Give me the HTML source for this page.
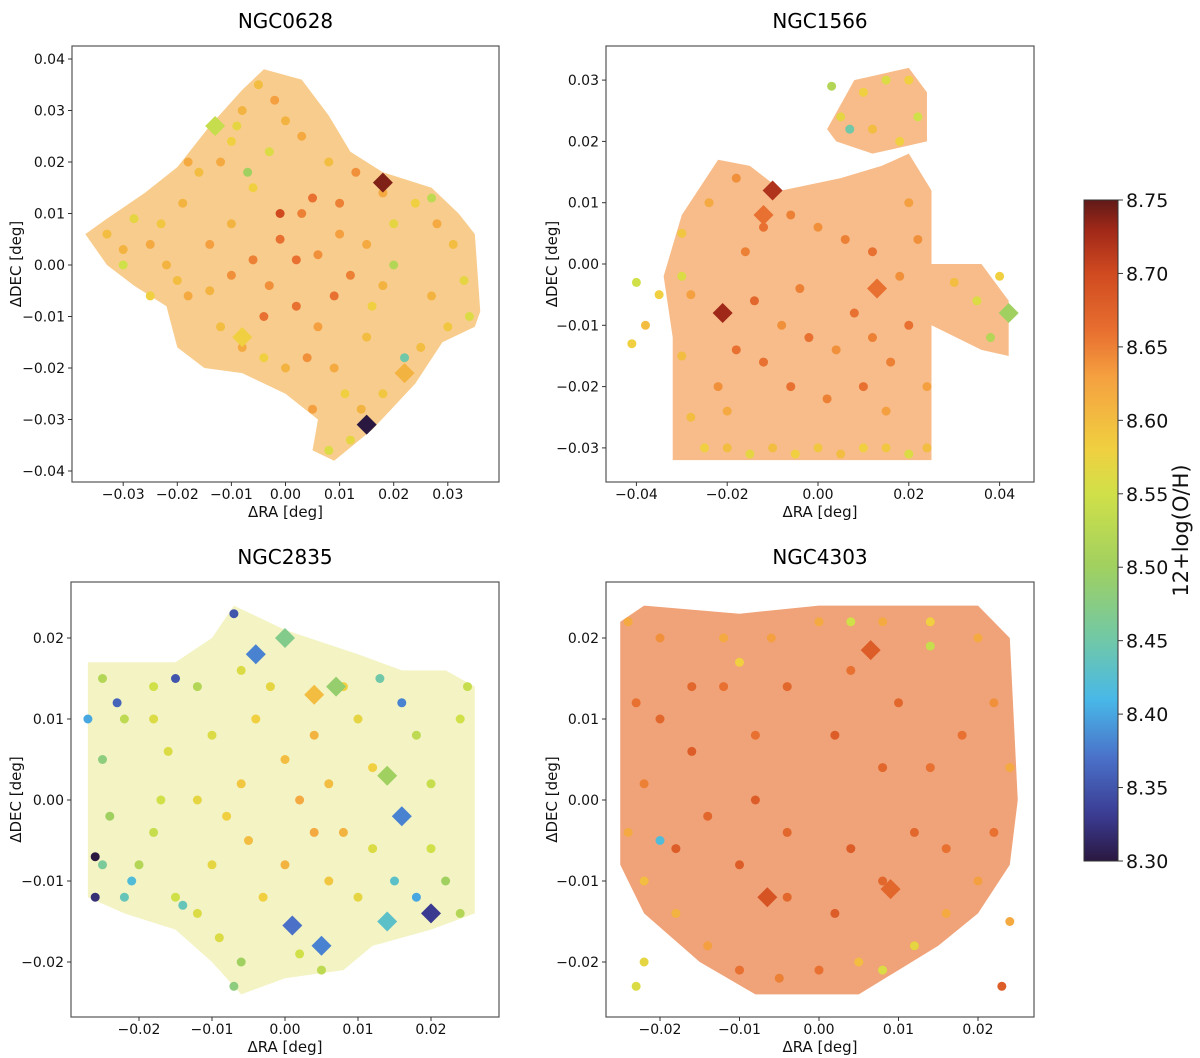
<!DOCTYPE html>
<html><head><meta charset="utf-8">
<style>
html,body{margin:0;padding:0;background:#fff;}
svg{display:block;font-family:"DejaVu Sans","Liberation Sans",sans-serif;}
</style></head>
<body>
<svg id="fig" width="1200" height="1058" viewBox="0 0 1200 1058" xmlns="http://www.w3.org/2000/svg">
<defs>
<linearGradient id="cbgrad" x1="0" y1="1" x2="0" y2="0">
<stop offset="0" stop-color="#2a1840"/><stop offset="0.067" stop-color="#3a3a90"/>
<stop offset="0.155" stop-color="#4a70c8"/><stop offset="0.244" stop-color="#48b8e8"/>
<stop offset="0.333" stop-color="#70c8a8"/><stop offset="0.444" stop-color="#a0d060"/>
<stop offset="0.555" stop-color="#d0e048"/><stop offset="0.622" stop-color="#f0d040"/>
<stop offset="0.733" stop-color="#f5a040"/><stop offset="0.8" stop-color="#e87030"/>
<stop offset="0.889" stop-color="#d04a20"/><stop offset="0.955" stop-color="#a02818"/>
<stop offset="1" stop-color="#601a18"/>
</linearGradient>
</defs>
</svg>
<script>
// ---- data (milli-degrees, 12+log(O/H)) ----
const panelNames = ["NGC0628","NGC1566","NGC2835","NGC4303"];
const ngc0628Points = [[-33,6,8.60],[-30,3,8.61],[-28,9,8.57],[-25,4,8.62],[-22,0,8.61],[-20,-3,8.60],[-18,-6,8.62],[-23,8,8.59],[-19,12,8.61],[-16,18,8.60],[-12,20,8.62],[-10,24,8.58],[-8,30,8.61],[-5,35,8.60],[-2,32,8.63],[0,28,8.61],[3,25,8.62],[-3,22,8.56],[-6,15,8.58],[-10,8,8.61],[-14,4,8.63],[-14,-5,8.61],[-12,-12,8.60],[-8,-16,8.62],[-4,-18,8.58],[0,-20,8.61],[4,-18,8.64],[6,-12,8.63],[2,-8,8.66],[-3,-4,8.64],[-6,1,8.65],[-1,5,8.66],[3,10,8.65],[6,2,8.64],[10,6,8.63],[12,-2,8.65],[9,-6,8.66],[15,4,8.62],[18,-4,8.61],[20,8,8.57],[24,12,8.58],[28,8,8.62],[31,4,8.60],[33,-3,8.57],[34,-10,8.56],[30,-12,8.59],[27,-6,8.61],[25,-16,8.60],[22,-21,8.62],[18,-25,8.59],[14,-28,8.61],[12,-34,8.57],[8,-36,8.56],[5,-28,8.63],[9,-20,8.62],[15,-14,8.60],[16,-8,8.58],[18,14,8.62],[13,18,8.64],[8,20,8.60],[-1,10,8.70],[2,1,8.66],[-25,-6,8.58],[-30,0,8.55],[22,-18,8.45],[-7,18,8.50],[27,13,8.53],[-18,20,8.62],[-9,27,8.57],[5,13,8.66],[10,12,8.65],[-4,-10,8.66],[-10,-2,8.64],[20,0,8.52],[11,-25,8.58]];
const ngc0628Diamonds = [[-8,-14,8.58],[22,-21,8.61],[-13,27,8.54],[18,16,8.74],[15,-31,8.30]];
const ngc0628Footprint = [[-4,38],[3,36],[8,29],[12,22],[18,18],[27,15],[32,10],[35,6],[36,-9],[35,-12],[29,-15],[24,-23],[16,-32],[9,-38],[5,-36],[6,-30],[0,-25],[-8,-21],[-15,-20],[-20,-16],[-22,-8],[-28,-4],[-33,0],[-37,6],[-33,9],[-26,14],[-20,19],[-14,27],[-8,34]];

const ngc1566Points = [[-30,5,8.59],[-28,-5,8.63],[-30,-15,8.60],[-28,-25,8.60],[-25,-30,8.58],[-20,-30,8.60],[-15,-31,8.57],[-10,-30,8.60],[-5,-31,8.58],[0,-30,8.59],[5,-31,8.60],[10,-30,8.58],[15,-30,8.59],[20,-31,8.56],[24,-30,8.60],[-22,-20,8.64],[-18,-14,8.66],[-14,-6,8.67],[-16,2,8.65],[-12,6,8.66],[-6,8,8.65],[0,6,8.64],[6,4,8.65],[12,2,8.66],[18,-2,8.64],[20,-10,8.66],[16,-16,8.65],[10,-20,8.66],[2,-22,8.65],[-6,-20,8.66],[-12,-16,8.66],[-8,-10,8.64],[-4,-4,8.65],[8,-8,8.66],[4,-14,8.64],[15,-24,8.63],[-20,-24,8.62],[20,10,8.63],[22,4,8.64],[24,-20,8.63],[-24,10,8.62],[-18,14,8.64],[-30,-2,8.56],[-35,-5,8.58],[-38,-10,8.60],[-40,-3,8.55],[-41,-13,8.58],[30,-3,8.60],[35,-6,8.56],[38,-12,8.52],[40,-2,8.58],[5,24,8.57],[10,28,8.58],[15,30,8.56],[20,30,8.58],[22,24,8.55],[12,22,8.60],[18,20,8.58],[3,29,8.52],[7,22,8.45],[-2,-12,8.66],[12,-12,8.65]];
const ngc1566Diamonds = [[13,-4,8.66],[-12,8,8.66],[42,-8,8.50],[-10,12,8.72],[-21,-8,8.73]];
const ngc1566Footprint = [[-30,8],[-22,17],[-15,16],[-8,12],[5,14],[14,16],[20,18],[25,12],[25,0],[36,0],[42,-6],[42,-15],[36,-14],[25,-10],[25,-32],[-32,-32],[-32,-12],[-34,-2]];
const ngc1566Footprint2 = [[2,22],[8,30],[20,32],[24,28],[24,20],[12,18],[4,20]];

const ngc2835Points = [[-25,15,8.52],[-22,10,8.53],[-25,5,8.48],[-24,-2,8.50],[-25,-8,8.46],[-22,-12,8.44],[-26,-12,8.32],[-23,12,8.36],[-18,14,8.55],[-16,6,8.56],[-18,-4,8.54],[-20,-8,8.52],[-15,-12,8.55],[-12,-14,8.56],[-10,-8,8.57],[-12,0,8.57],[-10,8,8.56],[-12,14,8.52],[-6,16,8.56],[-4,10,8.58],[-6,2,8.59],[-5,-5,8.60],[-3,-12,8.58],[0,-8,8.61],[2,0,8.62],[0,5,8.60],[4,8,8.61],[6,2,8.60],[8,-4,8.61],[6,-10,8.59],[10,-12,8.57],[12,-6,8.56],[12,4,8.58],[10,10,8.57],[13,15,8.45],[16,12,8.38],[18,8,8.53],[20,2,8.54],[20,-6,8.55],[22,-10,8.50],[24,-14,8.52],[24,10,8.55],[25,14,8.54],[18,-12,8.40],[15,-10,8.43],[-6,-20,8.50],[-7,-23,8.48],[-9,-17,8.56],[2,-19,8.55],[5,-21,8.53],[-7,23,8.35],[-15,15,8.35],[-14,-13,8.44],[-18,10,8.56],[-2,14,8.57],[8,14,8.58],[-26,-7,8.30],[-21,-10,8.42],[-27,10,8.40],[-17,0,8.55],[4,-4,8.62],[-8,-2,8.58]];
const ngc2835Diamonds = [[4,13,8.60],[7,14,8.49],[0,20,8.47],[-4,18,8.38],[14,3,8.50],[16,-2,8.38],[14,-15,8.43],[20,-14,8.33],[1,-15.5,8.37],[5,-18,8.38]];
const ngc2835Footprint = [[-27,17],[-15,17],[-10,20],[-7,24],[0,21],[10,18],[16,16],[22,16],[26,14],[26,-14],[20,-16],[12,-18],[8,-21],[0,-22],[-6,-24],[-10,-20],[-15,-16],[-22,-14],[-27,-12]];

const ngc4303Points = [[-24,22,8.62],[-20,20,8.64],[-23,12,8.66],[-22,2,8.65],[-24,-4,8.62],[-22,-10,8.60],[-18,-14,8.61],[-14,-18,8.63],[-10,-21,8.66],[-5,-22,8.65],[0,-21,8.66],[5,-20,8.60],[8,-21,8.56],[12,-18,8.65],[16,-14,8.62],[20,-10,8.63],[22,-4,8.66],[24,4,8.62],[22,12,8.64],[20,20,8.62],[14,22,8.58],[8,22,8.62],[0,22,8.62],[-6,20,8.63],[-12,20,8.62],[-16,14,8.67],[-16,6,8.68],[-14,-2,8.67],[-10,-8,8.68],[-4,-12,8.67],[2,-14,8.68],[8,-10,8.67],[12,-4,8.67],[14,4,8.66],[10,12,8.67],[4,16,8.66],[-4,14,8.67],[-8,8,8.66],[-8,0,8.68],[-4,-4,8.67],[4,-6,8.68],[8,4,8.67],[16,-6,8.66],[18,8,8.66],[-18,-6,8.68],[-20,10,8.67],[2,8,8.68],[-12,14,8.66],[14,19,8.54],[4,22,8.55],[-22,-20,8.57],[-23,-23,8.56],[23,-23,8.68],[24,-15,8.62],[-20,-5,8.42],[-10,17,8.58],[12,-18,8.57]];
const ngc4303Diamonds = [[6.5,18.5,8.68],[-6.5,-12,8.69],[9,-11,8.67]];
const ngc4303Footprint = [[-25,22],[-22,24],[-10,23],[0,24],[10,24],[20,24],[24,20],[25,0],[24,-8],[20,-14],[15,-18],[10,-21],[5,-24],[-8,-24],[-15,-20],[-22,-14],[-25,-8]];

const xTicks1 = [-0.03,-0.02,-0.01,0.00,0.01,0.02,0.03];
const yTicks1 = [-0.04,-0.03,-0.02,-0.01,0.00,0.01,0.02,0.03,0.04];
const xTicks2 = [-0.04,-0.02,0.00,0.02,0.04];
const yTicks2 = [-0.03,-0.02,-0.01,0.00,0.01,0.02,0.03];
const xTicks3 = [-0.02,-0.01,0.00,0.01,0.02];
const yTicks3 = [-0.02,-0.01,0.00,0.01,0.02];
const cbTicks = [8.30,8.35,8.40,8.45,8.50,8.55,8.60,8.65,8.70,8.75];

// ---- colormap ----
const cmap = [[8.30,[42,24,64]],[8.33,[58,58,144]],[8.37,[74,112,200]],[8.41,[72,184,232]],[8.45,[112,200,168]],[8.50,[160,208,96]],[8.55,[208,224,72]],[8.58,[240,208,64]],[8.63,[245,160,64]],[8.66,[232,112,48]],[8.70,[208,74,32]],[8.73,[160,40,24]],[8.75,[96,26,24]]];
function color(v){
  if(v<=cmap[0][0]) return `rgb(${cmap[0][1]})`;
  for(let i=1;i<cmap.length;i++){
    if(v<=cmap[i][0]){const a=cmap[i-1],b=cmap[i];const t=(v-a[0])/(b[0]-a[0]);
      const c=a[1].map((x,k)=>Math.round(x+(b[1][k]-x)*t));return `rgb(${c})`;}
  }
  return `rgb(${cmap[cmap.length-1][1]})`;
}

const NS="http://www.w3.org/2000/svg";
const svg=document.getElementById('fig');
function mk(tag,attrs,parent){const e=document.createElementNS(NS,tag);for(const k in attrs)e.setAttribute(k,attrs[k]);(parent||svg).appendChild(e);return e;}

const panels=[
 {name:panelNames[0],key:'ngc0628',L:72,R:499,T:46,B:482,x0:285.5,xs:5.41,y0:265,ys:5.15,xt:xTicks1,yt:yTicks1,pts:ngc0628Points,dia:ngc0628Diamonds,fp:[ngc0628Footprint],fv:8.62,fo:0.6,yl:16},
 {name:panelNames[1],key:'ngc1566',L:606,R:1034,T:46,B:482,x0:818,xs:4.54,y0:264,ys:6.13,xt:xTicks2,yt:yTicks2,pts:ngc1566Points,dia:ngc1566Diamonds,fp:[ngc1566Footprint,ngc1566Footprint2],fv:8.64,fo:0.6,yl:552},
 {name:panelNames[2],key:'ngc2835',L:71,R:499,T:582,B:1017,x0:285,xs:7.3,y0:800,ys:8.1,xt:xTicks3,yt:yTicks3,pts:ngc2835Points,dia:ngc2835Diamonds,fp:[ngc2835Footprint],fv:8.56,fo:0.32,yl:16},
 {name:panelNames[3],key:'ngc4303',L:606,R:1034,T:582,B:1017,x0:819,xs:7.95,y0:800,ys:8.1,xt:xTicks3,yt:yTicks3,pts:ngc4303Points,dia:ngc4303Diamonds,fp:[ngc4303Footprint],fv:8.66,fo:0.65,yl:552}
];

panels.forEach(p=>{
  const g=mk('g',{});
  
  
  const X=v=>p.x0+v*p.xs, Y=v=>p.y0-v*p.ys; // milli-deg
  const title=mk('text',{x:(p.L+p.R)/2,y:p.T-18,'text-anchor':'middle','font-size':20,fill:'#000'},g);
  title.textContent=p.name;
  
  
  p.fp.forEach(fp=>{
    const poly=mk('polygon',{points:fp.map(q=>X(q[0])+','+Y(q[1])).join(' '),fill:color(p.fv),'fill-opacity':p.fo},g);
    
    
  });
  p.pts.forEach(q=>{
    const c=mk('circle',{cx:X(q[0]),cy:Y(q[1]),r:4.5,fill:color(q[2])},g);
    
    
  });
  p.dia.forEach(q=>{
    const cx=X(q[0]),cy=Y(q[1]),s=10;
    const d=mk('polygon',{points:`${cx},${cy-s} ${cx+s},${cy} ${cx},${cy+s} ${cx-s},${cy}`,fill:color(q[2])},g);
    
    
  });
  const fr=mk('rect',{x:p.L,y:p.T,width:p.R-p.L,height:p.B-p.T,fill:'none',stroke:'#555','stroke-width':1.2},g);
  
  
  p.xt.forEach(v=>{
    const x=X(v*1000);
    mk('line',{x1:x,x2:x,y1:p.B,y2:p.B+4,stroke:'#333'},g);
    const t=mk('text',{x:x,y:p.B+17,'text-anchor':'middle','font-size':14,fill:'#111'},g);
    t.textContent=(v<0?'\u2212':'')+Math.abs(v).toFixed(2);
    
    
  });
  p.yt.forEach(v=>{
    const y=Y(v*1000);
    mk('line',{x1:p.L-4,x2:p.L,y1:y,y2:y,stroke:'#333'},g);
    const t=mk('text',{x:p.L-7,y:y+5,'text-anchor':'end','font-size':14,fill:'#111'},g);
    t.textContent=(v<0?'\u2212':'')+Math.abs(v).toFixed(2);
    
    
  });
  const xl=mk('text',{x:(p.L+p.R)/2,y:p.B+35,'text-anchor':'middle','font-size':15,fill:'#111'},g);
  xl.textContent='\u0394RA [deg]';
  
  
  const yc=(p.T+p.B)/2;
  const yl=mk('text',{x:p.yl,y:yc,'text-anchor':'middle','font-size':15,fill:'#111',transform:`rotate(-90 ${p.yl} ${yc})`,dy:5},g);
  yl.textContent='\u0394DEC [deg]';
  
  
});

// colorbar
const cb=mk('g',{});


const cbT=200,cbB=861,cbL=1084,cbR=1118;
const CY=v=>cbB-(v-8.30)/(0.45)*(cbB-cbT);
mk('rect',{x:cbL,y:cbT,width:cbR-cbL,height:cbB-cbT,fill:'url(#cbgrad)',stroke:'#333','stroke-width':1},cb);
cbTicks.forEach(v=>{
  const y=CY(v);
  mk('line',{x1:cbR,x2:cbR+5,y1:y,y2:y,stroke:'#333'},cb);
  const t=mk('text',{x:cbR+8,y:y+7,'font-size':19,fill:'#111'},cb);
  t.textContent=v.toFixed(2);
  
  
});
const ct=mk('text',{x:1188,y:(cbT+cbB)/2,'text-anchor':'middle','font-size':21,fill:'#111',transform:`rotate(-90 1188 ${(cbT+cbB)/2})`},cb);
ct.textContent='12+log(O/H)';


</script>
</body></html>
